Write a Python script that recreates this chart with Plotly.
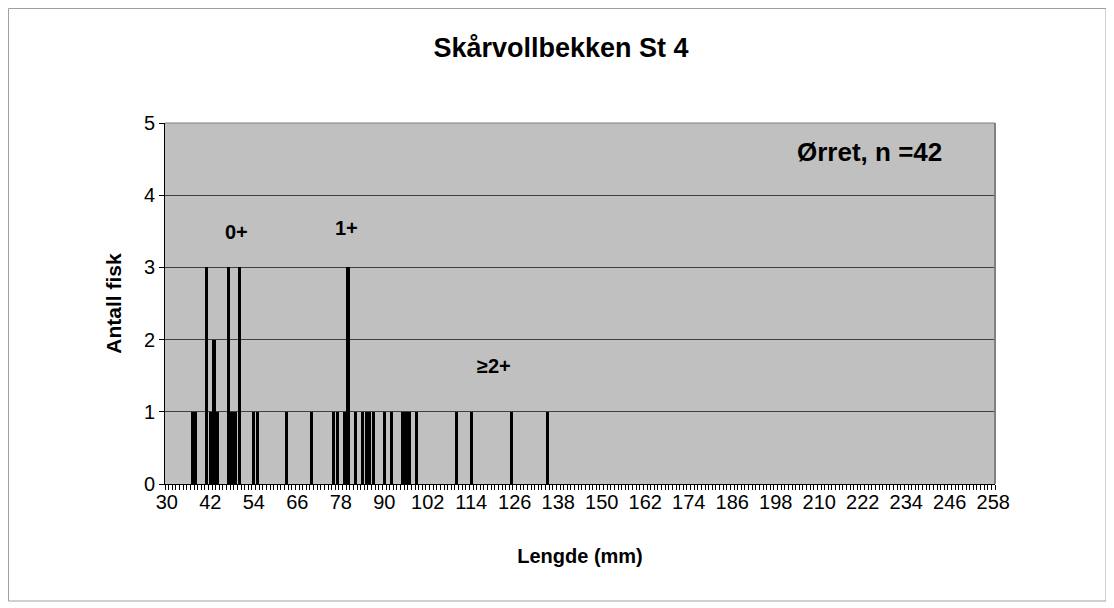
import plotly.graph_objects as go

# fish length (mm) and count
lengths = [37, 38, 41, 42, 43, 44, 47, 48, 49, 50,
           54, 55, 63, 70, 76, 77, 79, 80, 82,
           84, 85, 86, 87, 90, 92, 95, 96, 97, 99,
           110, 114, 125, 135]
counts = [1, 1, 3, 1, 2, 1, 3, 1, 1, 3,
          1, 1, 1, 1, 1, 1, 1, 3, 1,
          1, 1, 1, 1, 1, 1, 1, 1, 1, 1,
          1, 1, 1, 1]

x_ticks = list(range(30, 259, 12))
age_labels = ["0+", "1+", "≥2+"]
age_label_x = [45.4, 75.8, 115.0]
age_label_y = [3.49, 3.55, 1.63]

font_family = "Liberation Sans, Arial, sans-serif"

# the page has an 8px body margin, so the figure is made 8px smaller
fig_w, fig_h = 1106, 600
m_l, m_r, m_t, m_b = 157, 119, 115, 124
plot_w = fig_w - m_l - m_r
plot_h = fig_h - m_t - m_b

bars = go.Bar(
    x=lengths,
    y=counts,
    width=0.88,
    marker=dict(color="black", line=dict(width=0)),
    showlegend=False)

annotations = [dict(x=x, y=y, text=f"<b>{t}</b>", showarrow=False,
                    xref="x", yref="y", xanchor="left",
                    font=dict(size=20, color="black"))
               for t, x, y in zip(age_labels, age_label_x, age_label_y)]
annotations.append(dict(x=0.849, y=4.6, xref="paper", yref="y",
                        xanchor="center",
                        text="<b>Ørret, n =42</b>", showarrow=False,
                        font=dict(size=26, color="black")))

layout = go.Layout(
    width=fig_w,
    height=fig_h,
    margin=dict(l=m_l, r=m_r, t=m_t, b=m_b),
    paper_bgcolor="white",
    plot_bgcolor="#C0C0C0",
    font=dict(family=font_family, size=20, color="black"),
    title=dict(text="<b>Skårvollbekken St 4</b>", x=0.5, xanchor="center",
               y=1 - 40 / fig_h, yanchor="middle", font=dict(size=27)),
    bargap=0,
    xaxis=dict(
        range=[29.5, 258.5],
        tickmode="array",
        tickvals=x_ticks,
        ticktext=[str(v) for v in x_ticks],
        ticks="",
        showgrid=False,
        zeroline=False,
        showline=True,
        linecolor="black",
        linewidth=1,
        minor=dict(ticks="outside", tick0=29.5, dtick=1, ticklen=5,
                   tickcolor="black", tickwidth=1, showgrid=False),
        title=dict(text="<b>Lengde (mm)</b>", font=dict(size=20), standoff=36)),
    yaxis=dict(
        range=[0, 5],
        dtick=1,
        ticks="outside",
        ticklen=5,
        tickcolor="black",
        showgrid=True,
        gridcolor="#404040",
        gridwidth=1,
        zeroline=False,
        showline=True,
        linecolor="black",
        title=dict(text="<b>Antall fisk</b>", font=dict(size=21), standoff=16)),
    annotations=annotations,
    shapes=[
        dict(type="line", xref="paper", yref="paper",
             x0=1, x1=1, y0=0, y1=1, line=dict(color="#808080", width=2)),
        dict(type="line", xref="paper", yref="paper",
             x0=0, x1=1, y0=1, y1=1, line=dict(color="#808080", width=1)),
        dict(type="rect", xref="paper", yref="paper",
             x0=(0.5 - m_l) / plot_w, x1=(1098 - m_l) / plot_w,
             y0=(plot_h + m_t - 593) / plot_h, y1=(plot_h + m_t - 0.5) / plot_h,
             line=dict(color="#A0A0A0", width=1)),
    ])

fig = go.Figure(data=[bars], layout=layout)
fig.write_html("out.html")
